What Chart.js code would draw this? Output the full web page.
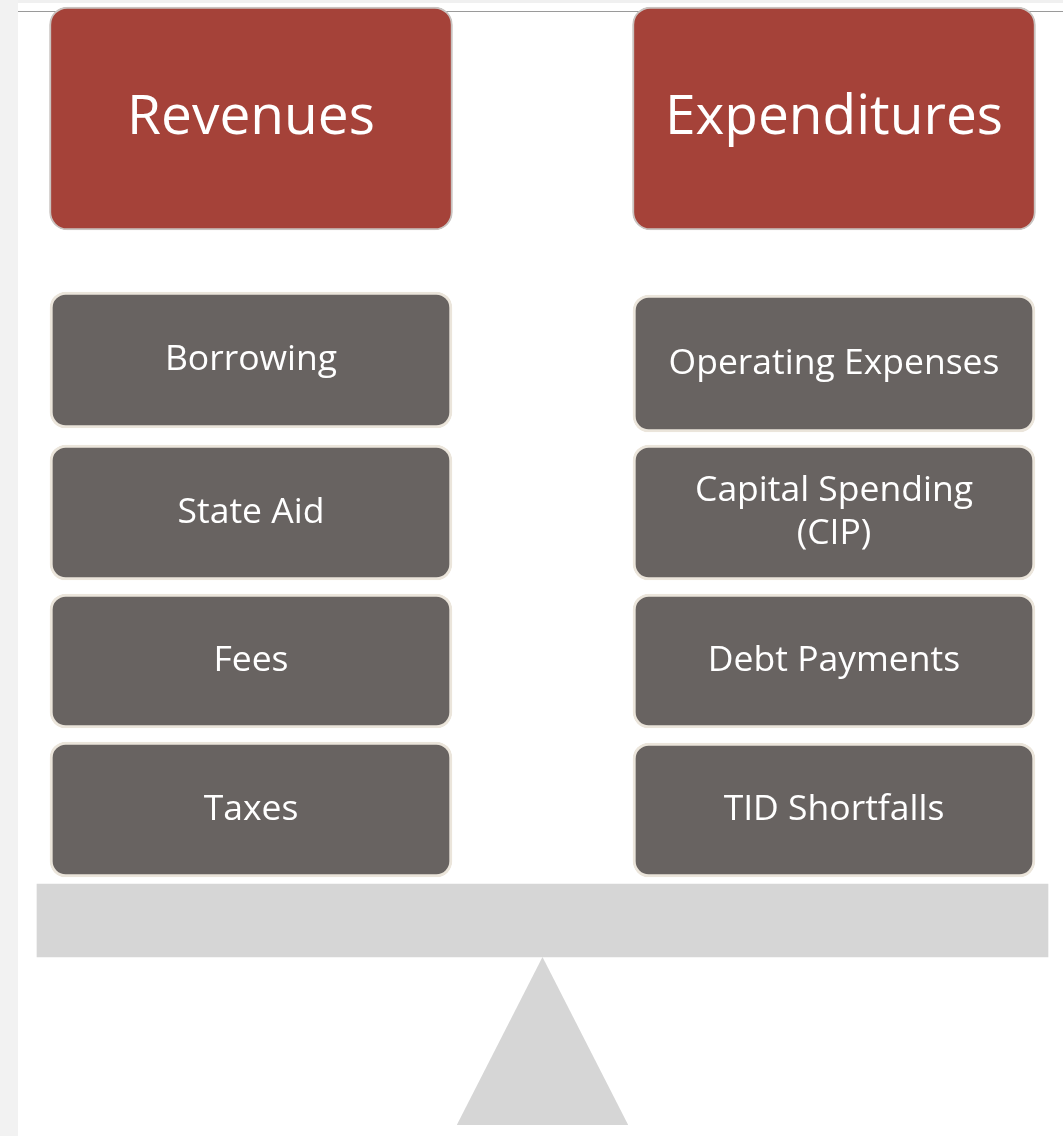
<!DOCTYPE html>
<html>
<head>
<meta charset="utf-8">
<title>Revenues / Expenditures</title>
<script src="https://cdn.jsdelivr.net/npm/chart.js@4/dist/chart.umd.min.js"></script>
<style>
  html, body { margin: 0; padding: 0; background: #fff; }
  #page { position: relative; width: 1063px; height: 1136px; overflow: hidden; background: #fff; }
  #side-strip { position: absolute; left: 0; top: 0; width: 18px; height: 1136px; background: #f2f2f2; }
  #top-band { position: absolute; left: 18px; top: 0; right: 0; height: 3px; background: #f0f0f0; }
  #top-line { position: absolute; left: 18px; top: 11px; right: 0; height: 1px; background: #9a9a9a; }
  #chart-box { position: absolute; left: 0; top: 0; width: 1063px; height: 1136px; }
</style>
</head>
<body>
<div id="page">
  <div id="side-strip"></div>
  <div id="top-band"></div>
  <div id="top-line"></div>
  <div id="chart-box"><canvas id="balanceChart"></canvas></div>
</div>
<script>
// column headers and the items under each one
const columns = ['Revenues', 'Expenditures'];
const revenueItems = ['Borrowing', 'State Aid', 'Fees', 'Taxes'];
const expenditureItems = ['Operating Expenses', ['Capital Spending', '(CIP)'], 'Debt Payments', 'TID Shortfalls'];

// vertical spans (top, bottom) of each box
const headerSpan = [7, 230];
const revenueSpans = [[292, 428], [445, 580], [594, 728], [742, 877]];
const expenditureSpans = [[295, 432], [445, 580], [594, 728], [743, 877]];

// the scale: beam and fulcrum sit between the two columns
const beamSpan = [884, 957];
const fulcrumX = [0.353, 0.5, 0.647];
const fulcrumY = [1125, 957, 1125];

document.addEventListener('DOMContentLoaded', () => {
    const ctx = document.getElementById('balanceChart').getContext('2d');

    const RED = '#a54239';
    const GREY = '#686361';
    const LIGHT = '#d6d6d6';

    // header boxes
    const datasets = [{
        type: 'bar',
        texts: columns,
        fontSize: 55,
        data: columns.map((c, i) => ({ x: i, y: headerSpan })),
        backgroundColor: RED,
        borderColor: '#c9c3c0',
        borderWidth: 2,
        borderRadius: 18,
        borderSkipped: false,
        barThickness: 403,
        grouped: false
    }];

    // item rows
    revenueItems.forEach((item, i) => {
        datasets.push({
            type: 'bar',
            texts: [item, expenditureItems[i]],
            fontSize: 35.5,
            data: [
                { x: 0, y: revenueSpans[i] },
                { x: 1, y: expenditureSpans[i] }
            ],
            backgroundColor: GREY,
            borderColor: '#ebe5db',
            borderWidth: 3,
            borderRadius: 16,
            borderSkipped: false,
            barThickness: 402,
            grouped: false
        });
    });

    // beam
    datasets.push({
        type: 'bar',
        data: [{ x: 0.5, y: beamSpan }],
        backgroundColor: LIGHT,
        borderWidth: 0,
        borderSkipped: false,
        barThickness: 1011,
        grouped: false
    });

    // fulcrum triangle, filled down to its base
    datasets.push({
        type: 'line',
        data: fulcrumX.map((x, i) => ({ x: x, y: fulcrumY[i] })),
        borderWidth: 0,
        borderColor: LIGHT,
        backgroundColor: LIGHT,
        pointRadius: 0,
        tension: 0,
        fill: { value: fulcrumY[0] }
    });

    // writes each box's label in its middle
    const boxLabels = {
        id: 'boxLabels',
        afterDatasetsDraw(chart) {
            const c = chart.ctx;
            c.save();
            c.fillStyle = '#ffffff';
            c.textAlign = 'center';
            c.textBaseline = 'middle';
            chart.data.datasets.forEach((ds, di) => {
                if (!ds.texts) return;
                c.font = `${ds.fontSize}px "Open Sans", "Noto Sans", sans-serif`;
                const lineH = ds.fontSize * 1.22;
                chart.getDatasetMeta(di).data.forEach((bar, i) => {
                    const lines = [].concat(ds.texts[i]);
                    const mid = (bar.y + bar.base) / 2;
                    const top = mid - (lines.length - 1) * lineH / 2;
                    lines.forEach((t, li) => c.fillText(t, bar.x, top + li * lineH));
                });
            });
            c.restore();
        }
    };

    new Chart(ctx, {
        type: 'bar',
        data: { datasets: datasets },
        plugins: [boxLabels],
        options: {
            responsive: true,
            maintainAspectRatio: false,
            animation: false,
            layout: { padding: 0 },
            scales: {
                x: { type: 'linear', min: -0.4305, max: 1.3928, offset: false, display: false },
                y: { type: 'linear', min: 0, max: 1136, reverse: true, display: false }
            },
            plugins: {
                legend: { display: false },
                tooltip: { enabled: false }
            }
        }
    });
});
</script>
</body>
</html>
